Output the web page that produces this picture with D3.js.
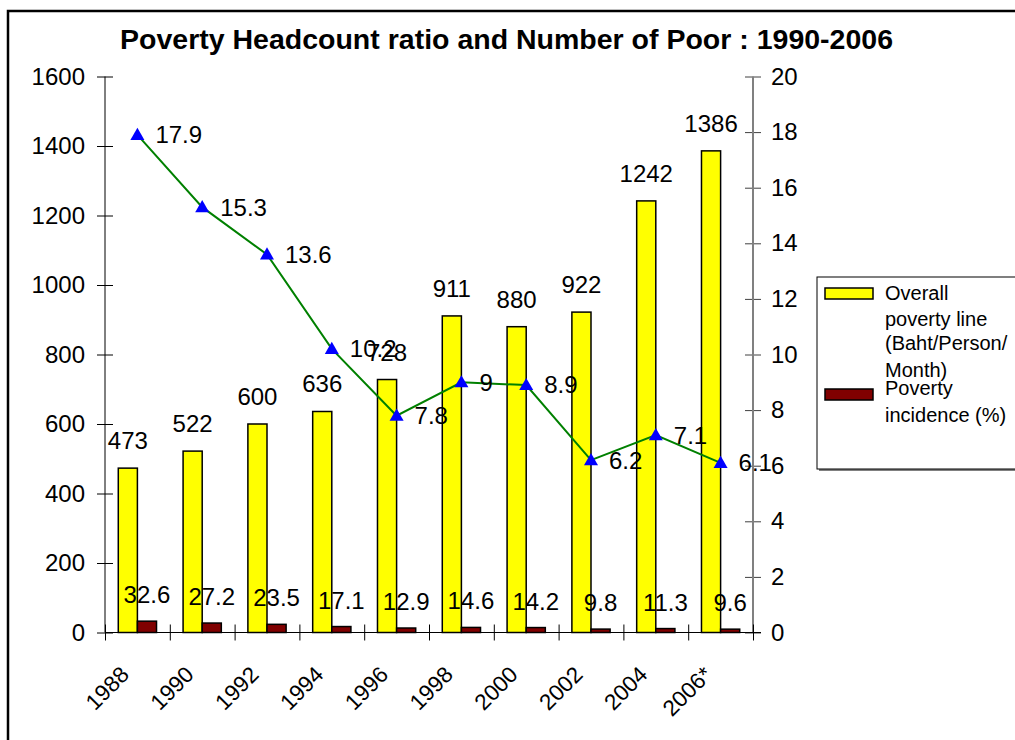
<!DOCTYPE html>
<html>
<head>
<meta charset="utf-8">
<script src="https://cdn.jsdelivr.net/npm/d3@7"></script>
<style>
  body { margin: 0; background: #fff; }
  svg { display: block; }
  text { font-family: "Liberation Sans", Arial, sans-serif; }
</style>
</head>
<body>
<svg id="chart" width="1015" height="740"></svg>
<script>
// Survey years and the three series
const years = ["1988", "1990", "1992", "1994", "1996", "1998", "2000", "2002", "2004", "2006*"];
const povertyLine = [473, 522, 600, 636, 728, 911, 880, 922, 1242, 1386];   // Baht/Person/Month
const incidence = [32.6, 27.2, 23.5, 17.1, 12.9, 14.6, 14.2, 9.8, 11.3, 9.6]; // %
const numberOfPoor = [17.9, 15.3, 13.6, 10.2, 7.8, 9, 8.9, 6.2, 7.1, 6.1];     // right axis

const leftTicks = [0, 200, 400, 600, 800, 1000, 1200, 1400, 1600];
const rightTicks = [0, 2, 4, 6, 8, 10, 12, 14, 16, 18, 20];

const titleText = "Poverty Headcount ratio and Number of Poor : 1990-2006";
const legendLines = [
  ["Overall", "poverty line", "(Baht/Person/", "Month)"],
  ["Poverty", "incidence (%)"]
];

const svg = d3.select("#chart");
const plotLeft = 105, plotRight = 753, plotTop = 76.5, plotBottom = 632.5;
const fontStack = '"Liberation Sans", Arial, sans-serif';

// Outer frame
svg.append("rect")
  .attr("x", 8).attr("y", 11).attr("width", 1100).attr("height", 800)
  .attr("fill", "none").attr("stroke", "#000").attr("stroke-width", 2.5);

// Title
svg.append("text")
  .attr("x", 506.5).attr("y", 49)
  .attr("text-anchor", "middle")
  .attr("font-weight", "bold")
  .attr("font-size", 27.5)
  .attr("textLength", 773)
  .attr("lengthAdjust", "spacingAndGlyphs")
  .text(titleText);

// Scales
const x = d3.scaleBand().domain(years).range([plotLeft, plotRight]);
const bw = x.bandwidth();
const yL = d3.scaleLinear().domain([0, 1600]).range([plotBottom, plotTop]);
const yR = d3.scaleLinear().domain([0, 20]).range([plotBottom, plotTop]);
const slot = d3.scaleLinear().domain([0, years.length]).range([plotLeft, plotRight]);
const barW = bw * 0.295;

// Left axis
const gL = svg.append("g").attr("transform", `translate(${plotLeft},0)`)
  .call(d3.axisLeft(yL).tickValues(leftTicks).tickFormat(d3.format("d")).tickSize(0));
gL.select(".domain").remove();
gL.append("line").attr("y1", plotTop).attr("y2", plotBottom).attr("stroke", "#000");
gL.selectAll(".tick line").attr("x1", -8).attr("x2", 8).attr("stroke", "#000");
gL.selectAll(".tick text").attr("x", -20).attr("font-size", 24).attr("fill", "#000")
  .style("font-family", fontStack);

// Right axis
const gR = svg.append("g").attr("transform", `translate(${plotRight},0)`)
  .call(d3.axisRight(yR).tickValues(rightTicks).tickFormat(d3.format("d")).tickSize(0));
gR.select(".domain").remove();
gR.append("line").attr("y1", plotTop).attr("y2", plotBottom).attr("stroke", "#808080").attr("stroke-width", 2);
gR.selectAll(".tick line").attr("x1", -8).attr("x2", 8).attr("stroke", "#404040");
gR.selectAll(".tick text").attr("x", 18).attr("font-size", 24).attr("fill", "#000")
  .style("font-family", fontStack);

// Bars: poverty line (yellow) and incidence (dark red), both on the left scale
const bars = svg.append("g");
bars.selectAll("rect.line")
  .data(povertyLine)
  .join("rect")
  .attr("x", (d, i) => x(years[i]) + bw / 2 - barW)
  .attr("y", d => yL(d))
  .attr("width", barW)
  .attr("height", d => yL(0) - yL(d))
  .attr("fill", "#FFFF00").attr("stroke", "#000").attr("stroke-width", 1.5);
bars.selectAll("rect.inc")
  .data(incidence)
  .join("rect")
  .attr("x", (d, i) => x(years[i]) + bw / 2)
  .attr("y", d => yL(d))
  .attr("width", barW)
  .attr("height", d => yL(0) - yL(d))
  .attr("fill", "#800000").attr("stroke", "#000").attr("stroke-width", 1.5);

// Bottom axis: tick marks sit between categories
const gB = svg.append("g").attr("transform", `translate(0,${plotBottom})`)
  .call(d3.axisBottom(slot).tickValues(d3.range(years.length + 1)).tickFormat(() => "").tickSize(0));
gB.select(".domain").remove();
gB.append("line").attr("x1", plotLeft).attr("x2", plotRight + 8).attr("stroke", "#000");
gB.selectAll(".tick line").attr("y1", -8).attr("y2", 8).attr("stroke", "#000");

// Rotated category labels
svg.append("g").selectAll("text")
  .data(years)
  .join("text")
  .attr("transform", d => `translate(${x(d) + bw / 2 - 7},676) rotate(-45)`)
  .attr("text-anchor", "end")
  .attr("font-size", 22.5)
  .text(d => d);

// Bar value labels
svg.append("g").selectAll("text")
  .data(povertyLine)
  .join("text")
  .attr("x", (d, i) => x(years[i]) + bw / 2 - barW / 2)
  .attr("y", d => yL(d) - 19)
  .attr("text-anchor", "middle")
  .attr("font-size", 24)
  .text(d => d);
svg.append("g").selectAll("text")
  .data(incidence)
  .join("text")
  .attr("x", (d, i) => x(years[i]) + bw / 2 + barW / 2)
  .attr("y", d => yL(d) - 18)
  .attr("text-anchor", "middle")
  .attr("font-size", 24)
  .text(d => d);

// Number of poor: line on the right scale
const pts = numberOfPoor.map((v, i) => ({ cx: x(years[i]) + bw / 2, cy: yR(v), v }));
svg.append("path")
  .datum(pts)
  .attr("fill", "none").attr("stroke", "#008000").attr("stroke-width", 2)
  .attr("d", d3.line().x(d => d.cx).y(d => d.cy));
svg.append("g").selectAll("path")
  .data(pts)
  .join("path")
  .attr("transform", d => `translate(${d.cx},${d.cy + 1})`)
  .attr("d", d3.symbol(d3.symbolTriangle, 85))
  .attr("fill", "#0000FF");
svg.append("g").selectAll("text")
  .data(pts)
  .join("text")
  .attr("x", d => d.cx + 18)
  .attr("y", d => d.cy)
  .attr("dy", "0.35em")
  .attr("font-size", 24)
  .text(d => d.v);

// Legend
const lg = svg.append("g");
lg.append("rect").attr("x", 819).attr("y", 279).attr("width", 300).attr("height", 192).attr("fill", "#808080");
lg.append("rect").attr("x", 817).attr("y", 277).attr("width", 300).attr("height", 192)
  .attr("fill", "#fff").attr("stroke", "#000").attr("stroke-width", 1);
const swatchColors = ["#FFFF00", "#800000"];
const swatchY = [288, 389];
const baselines = [[299.5, 326, 350, 377], [395, 422]];
legendLines.forEach((lines, k) => {
  lg.append("rect").attr("x", 825).attr("y", swatchY[k]).attr("width", 48).attr("height", 11)
    .attr("fill", swatchColors[k]).attr("stroke", "#000").attr("stroke-width", 1.5);
  lines.forEach((t, j) => {
    lg.append("text").attr("x", 885).attr("y", baselines[k][j]).attr("font-size", 20).text(t);
  });
});
</script>
</body>
</html>
